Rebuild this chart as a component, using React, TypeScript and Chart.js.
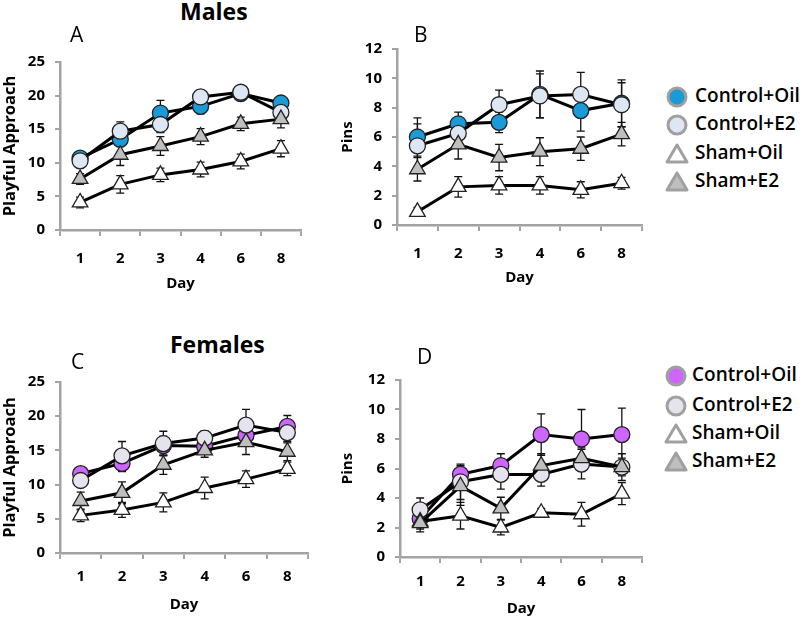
import React, { useEffect, useRef } from 'react';
import { Chart, registerables } from 'chart.js';

Chart.register(...registerables);

// ---------- data ----------
const days = ['1', '2', '3', '4', '6', '8'];
const groupLabels = ['Control+Oil', 'Control+E2', 'Sham+Oil', 'Sham+E2'];

// Males, Playful Approach (A)
const mPlayCtrlOil = [10.7, 13.5, 17.4, 18.4, 20.3, 18.9];
const mPlayCtrlE2 = [10.3, 14.7, 15.7, 19.8, 20.5, 17.5];
const mPlayShamOil = [4.1, 6.8, 8.2, 9.0, 10.2, 12.1];
const mPlayShamE2 = [7.6, 11.2, 12.5, 13.9, 15.8, 16.5];
const mPlayCtrlOilErr = [0.6, 0.9, 1.9, 1.1, 0.7, 0.8];
const mPlayCtrlE2Err = [0.6, 1.4, 1.2, 1.0, 0.7, 1.0];
const mPlayShamOilErr = [0.8, 1.3, 1.0, 1.1, 1.1, 1.2];
const mPlayShamE2Err = [0.8, 1.6, 1.4, 1.2, 1.0, 1.3];

// Males, Pins (B)
const mPinsCtrlOil = [6.0, 6.9, 7.0, 8.9, 7.8, 8.3];
const mPinsCtrlE2 = [5.4, 6.25, 8.2, 8.8, 8.9, 8.2];
const mPinsShamOil = [0.9, 2.6, 2.7, 2.7, 2.4, 2.85];
const mPinsShamE2 = [3.8, 5.5, 4.6, 5.0, 5.2, 6.2];
const mPinsCtrlOilErr = [1.3, 0.8, 0.7, 1.6, 1.4, 1.6];
const mPinsCtrlE2Err = [1.5, 0.9, 1.0, 1.5, 1.5, 1.5];
const mPinsShamOilErr = [0.3, 0.7, 0.6, 0.6, 0.55, 0.4];
const mPinsShamE2Err = [0.8, 1.0, 0.9, 0.95, 0.8, 0.8];

// Females, Playful Approach (C)
const fPlayCtrlOil = [11.6, 13.1, 15.7, 15.6, 17.2, 18.5];
const fPlayCtrlE2 = [10.6, 14.2, 16.0, 16.8, 18.7, 17.6];
const fPlayShamOil = [5.5, 6.3, 7.4, 9.5, 10.8, 12.3];
const fPlayShamE2 = [7.6, 8.8, 12.9, 15.0, 16.2, 14.8];
const fPlayCtrlOilErr = [1.0, 1.2, 1.4, 1.0, 1.6, 1.6];
const fPlayCtrlE2Err = [1.0, 2.1, 1.8, 1.1, 2.3, 1.3];
const fPlayShamOilErr = [0.9, 1.1, 1.4, 1.6, 1.2, 1.0];
const fPlayShamE2Err = [1.3, 1.6, 1.4, 1.0, 1.8, 1.3];

// Females, Pins (D)
const fPinsCtrlOil = [2.6, 5.6, 6.2, 8.3, 8.0, 8.3];
const fPinsCtrlE2 = [3.2, 5.1, 5.6, 5.6, 6.3, 6.1];
const fPinsShamOil = [2.4, 2.8, 2.0, 3.0, 2.9, 4.3];
const fPinsShamE2 = [2.3, 4.8, 3.3, 6.2, 6.7, 6.1];
const fPinsCtrlOilErr = [0.5, 0.6, 0.8, 1.4, 2.0, 1.8];
const fPinsCtrlE2Err = [0.8, 1.2, 1.0, 0.8, 1.0, 0.9];
const fPinsShamOilErr = [0.5, 0.9, 0.5, 0.3, 0.8, 0.75];
const fPinsShamE2Err = [0.6, 1.3, 0.75, 0.8, 0.7, 0.6];

// ---------- styles ----------
const FONT = "'Open Sans', sans-serif";
const AXIS_GREY = '#a3a3a3';
const MALE_OIL = '#1a9bd7';
const MALE_E2 = '#dde7f3';
const FEMALE_OIL = '#cc66ff';
const FEMALE_E2 = '#e6e2ee';
const SHAM_OIL = '#ffffff';
const SHAM_E2 = '#bfbfbf';
const styles = ['circle', 'circle', 'triangle', 'triangle'];

const errorBarPlugin = {
  id: 'errorBars',
  beforeDatasetsDraw(chart: any) {
    const ctx = chart.ctx;
    const ys = chart.scales.y;
    ctx.save();
    ctx.strokeStyle = '#111';
    ctx.lineWidth = 1.3;
    chart.data.datasets.forEach((ds: any, i: number) => {
      const meta = chart.getDatasetMeta(i);
      meta.data.forEach((pt: any, j: number) => {
        const v = ds.data[j];
        const e = ds.errors[j];
        const x = pt.x;
        const yt = ys.getPixelForValue(v + e);
        const yb = ys.getPixelForValue(v - e);
        ctx.beginPath();
        ctx.moveTo(x, yt);
        ctx.lineTo(x, yb);
        ctx.moveTo(x - 4, yt);
        ctx.lineTo(x + 4, yt);
        ctx.moveTo(x - 4, yb);
        ctx.lineTo(x + 4, yb);
        ctx.stroke();
      });
    });
    ctx.restore();
  },
};

type PanelProps = {
  left: number; top: number; width: number; height: number;
  padTop: number; padRight: number; yAxisWidth: number; xAxisHeight: number;
  yMax: number; yStep: number; yTitle: string; yTitleSize: number; yTickPad: number; yTitlePad: number;
  xTickPad: number; xTitlePadBottom: number;
  series: number[][]; errors: number[][]; fills: string[];
};

function Panel(p: PanelProps) {
  const ref = useRef<HTMLCanvasElement>(null);
  useEffect(() => {
    const tickFont = { family: FONT, size: 15, weight: 'bold' as const };
    const titleFont = { family: FONT, size: 15, weight: 'bold' as const };
    const yTitleFont = { family: FONT, size: p.yTitleSize, weight: 'bold' as const };
    const chart = new Chart(ref.current as HTMLCanvasElement, {
      type: 'line',
      data: {
        labels: days,
        datasets: p.series.map((d, i) => ({
          label: groupLabels[i],
          data: d,
          errors: p.errors[i],
          order: 3 - i,
          borderColor: '#000',
          borderWidth: 3,
          pointStyle: styles[i],
          pointRadius: styles[i] === 'circle' ? 8 : 9,
          pointBackgroundColor: p.fills[i],
          pointBorderColor: '#222',
          pointBorderWidth: 1.3,
          tension: 0,
          clip: false,
        })) as any,
      },
      options: {
        animation: false,
        responsive: false,
        devicePixelRatio: 1,
        layout: { autoPadding: false, padding: { top: p.padTop, right: p.padRight, left: 0, bottom: 0 } },
        plugins: { legend: { display: false }, tooltip: { enabled: false } },
        scales: {
          x: {
            type: 'category',
            offset: true,
            grid: { display: true, drawOnChartArea: false, drawTicks: true, tickLength: 6, color: AXIS_GREY, lineWidth: 2, offset: true },
            border: { color: AXIS_GREY, width: 2.5 },
            ticks: { font: tickFont, color: '#000', padding: p.xTickPad },
            title: { display: true, text: 'Day', font: titleFont, color: '#000', padding: { top: 0, bottom: p.xTitlePadBottom } },
            afterFit: (s: any) => { s.height = p.xAxisHeight; },
          },
          y: {
            min: 0,
            max: p.yMax,
            grid: { display: true, drawOnChartArea: false, drawTicks: true, tickLength: 5, color: AXIS_GREY, lineWidth: 2 },
            border: { color: AXIS_GREY, width: 2.5 },
            ticks: { stepSize: p.yStep, font: tickFont, color: '#000', padding: p.yTickPad },
            title: { display: true, text: p.yTitle, font: yTitleFont, color: '#000', padding: { top: p.yTitlePad, bottom: 0 } },
            afterFit: (s: any) => { s.width = p.yAxisWidth; },
          },
        },
      } as any,
      plugins: [errorBarPlugin],
    });
    return () => chart.destroy();
  }, []);
  return (
    <canvas
      ref={ref}
      width={p.width}
      height={p.height}
      style={{ position: 'absolute', left: p.left, top: p.top, width: p.width, height: p.height }}
    />
  );
}

function Marker({ kind, fill }: { kind: string; fill: string }) {
  return (
    <svg width={24} height={24} viewBox="0 0 24 24" style={{ display: 'block' }}>
      {kind === 'circle' ? (
        <circle cx={12} cy={12} r={9} fill={fill} stroke="#a0a0a0" strokeWidth={3} />
      ) : (
        <polygon points="12,3 22,20 2,20" fill={fill} stroke="#a0a0a0" strokeWidth={3} strokeLinejoin="round" />
      )}
    </svg>
  );
}

function Legend({ cx, tx, ys, fills }: { cx: number; tx: number; ys: number[]; fills: string[] }) {
  return (
    <>
      {groupLabels.map((lab, i) => (
        <React.Fragment key={lab}>
          <div style={{ position: 'absolute', left: cx - 12, top: ys[i] - 12 }}>
            <Marker kind={styles[i]} fill={fills[i]} />
          </div>
          <div
            style={{
              position: 'absolute', left: tx, top: ys[i] - 16, height: 28, lineHeight: '28px',
              fontFamily: FONT, fontWeight: 600, fontSize: 19, color: '#000', whiteSpace: 'nowrap',
            }}
          >
            {lab}
          </div>
        </React.Fragment>
      ))}
    </>
  );
}

const textStyle = (size: number, weight: number): React.CSSProperties => ({
  position: 'absolute', fontFamily: FONT, fontSize: size, fontWeight: weight, lineHeight: 1, color: '#000', whiteSpace: 'nowrap',
});

export default function App() {
  const maleFills = [MALE_OIL, MALE_E2, SHAM_OIL, SHAM_E2];
  const femaleFills = [FEMALE_OIL, FEMALE_E2, SHAM_OIL, SHAM_E2];
  return (
    <div style={{ position: 'absolute', left: 0, top: 0, width: 800, height: 619, background: '#fff', overflow: 'hidden' }}>
      <Panel left={0} top={43} width={305} height={257} padTop={19} padRight={4} yAxisWidth={60} xAxisHeight={70}
        yMax={25} yStep={5} yTitle="Playful Approach" yTitleSize={16.5} yTickPad={10} yTitlePad={0} xTickPad={14} xTitlePadBottom={7}
        series={[mPlayCtrlOil, mPlayCtrlE2, mPlayShamOil, mPlayShamE2]}
        errors={[mPlayCtrlOilErr, mPlayCtrlE2Err, mPlayShamOilErr, mPlayShamE2Err]} fills={maleFills} />
      <Panel left={339} top={30} width={306} height={270} padTop={19} padRight={3} yAxisWidth={58} xAxisHeight={75}
        yMax={12} yStep={2} yTitle="Pins" yTitleSize={15} yTickPad={10} yTitlePad={0} xTickPad={14} xTitlePadBottom={13}
        series={[mPinsCtrlOil, mPinsCtrlE2, mPinsShamOil, mPinsShamE2]}
        errors={[mPinsCtrlOilErr, mPinsCtrlE2Err, mPinsShamOilErr, mPinsShamE2Err]} fills={maleFills} />
      <Panel left={0} top={363} width={312} height={256} padTop={19} padRight={4} yAxisWidth={60} xAxisHeight={66}
        yMax={25} yStep={5} yTitle="Playful Approach" yTitleSize={16.5} yTickPad={10} yTitlePad={0} xTickPad={9} xTitlePadBottom={5}
        series={[fPlayCtrlOil, fPlayCtrlE2, fPlayShamOil, fPlayShamE2]}
        errors={[fPlayCtrlOilErr, fPlayCtrlE2Err, fPlayShamOilErr, fPlayShamE2Err]} fills={femaleFills} />
      <Panel left={339} top={361} width={306} height={258} padTop={19} padRight={3} yAxisWidth={61} xAxisHeight={62}
        yMax={12} yStep={2} yTitle="Pins" yTitleSize={15} yTickPad={10} yTitlePad={0} xTickPad={10} xTitlePadBottom={1}
        series={[fPinsCtrlOil, fPinsCtrlE2, fPinsShamOil, fPinsShamE2]}
        errors={[fPinsCtrlOilErr, fPinsCtrlE2Err, fPinsShamOilErr, fPinsShamE2Err]} fills={femaleFills} />

      <div style={{ ...textStyle(23, 700), left: 180, top: 0 }}>Males</div>
      <div style={{ ...textStyle(23, 700), left: 170, top: 333 }}>Females</div>
      <div style={{ ...textStyle(21, 400), left: 70, top: 24 }}>A</div>
      <div style={{ ...textStyle(21, 400), left: 414, top: 24 }}>B</div>
      <div style={{ ...textStyle(21, 400), left: 71, top: 351 }}>C</div>
      <div style={{ ...textStyle(21, 400), left: 417, top: 346 }}>D</div>

      <Legend cx={677} tx={695} ys={[96.5, 125, 153.5, 181.5]} fills={maleFills} />
      <Legend cx={676} tx={692} ys={[376, 406, 434, 462]} fills={femaleFills} />
    </div>
  );
}
